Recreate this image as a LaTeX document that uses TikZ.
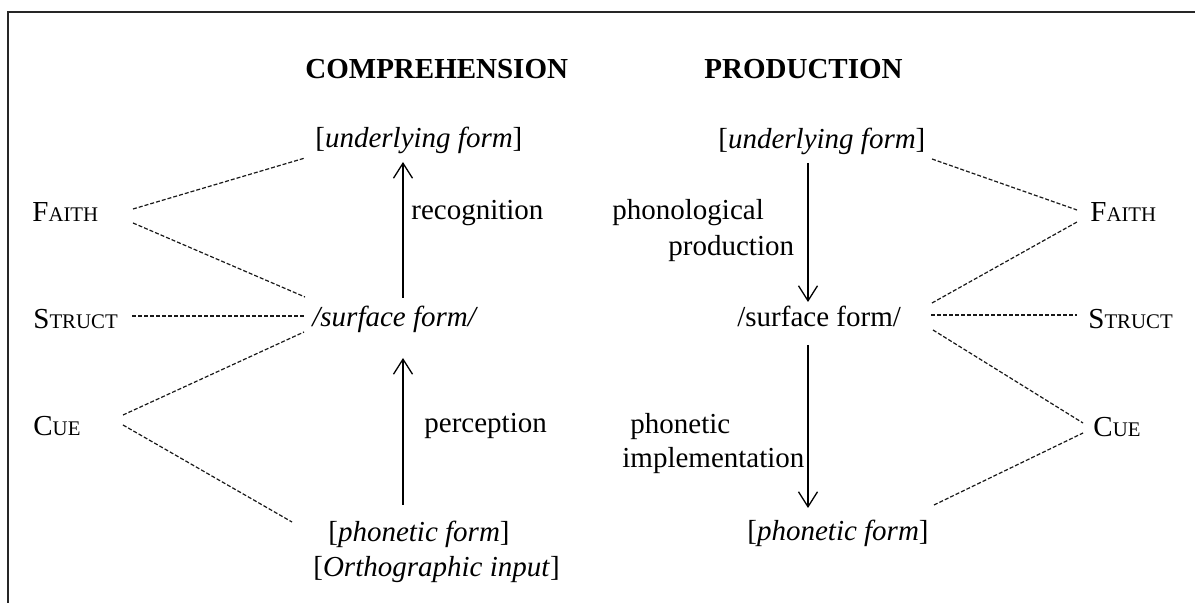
\documentclass[tikz,border=0pt]{standalone}
\usepackage{fontspec}
\setmainfont{Liberation Serif}
\usetikzlibrary{arrows.meta}
\newcommand{\fsc}[2]{#1{\fontsize{10.4pt}{12pt}\selectfont #2}}
\begin{document}
\begin{tikzpicture}[x=0.5pt,y=-0.5pt,
  lbl/.style={anchor=base west, inner sep=0pt, font=\fontsize{14.5pt}{17pt}\selectfont},
  ttl/.style={anchor=base west, inner sep=0pt, font=\fontsize{14.5pt}{17pt}\selectfont\bfseries},
  dline/.style={draw=black!90, line width=0.6pt, dash pattern=on 2pt off 1pt},
  arr/.style={draw=black, line width=0.65pt, -{Straight Barb[length=7.5pt,width=9.5pt]}},
  framel/.style={draw=black!85, line width=0.9pt}]
\useasboundingbox (0,0) rectangle (1195,603);
% frame (only top and left edges visible)
\coordinate (fTR) at (1195,12);
\coordinate (fTL) at (8,12);
\coordinate (fBL) at (8,603);
\draw[framel] (fTR) -- (fTL) -- (fBL);

% titles
\node[ttl] (tC) at (305,79) {COMPREHENSION};
\node[ttl] (tP) at (704,79) {PRODUCTION};

% comprehension column
\node[lbl] (ufL) at (315,148) {[\textit{underlying form}]};
\node[lbl] (sfL) at (312,327) {\textit{/surface form/}};
\node[lbl] (pfL) at (328,542) {[\textit{phonetic form}]};
\node[lbl] (orL) at (313,577) {[\textit{Orthographic input}]};
\node[lbl] (rec) at (411,220) {recognition};
\node[lbl] (per) at (424,433) {perception};

% constraints left
\node[lbl] (faithL) at (32,222) {\fsc{F}{AITH}};
\node[lbl] (structL) at (33,329) {\fsc{S}{TRUCT}};
\node[lbl] (cueL) at (33,436) {\fsc{C}{UE}};

% production column
\node[lbl] (ufR) at (718,149) {[\textit{underlying form}]};
\node[lbl] (sfR) at (737,327) {/surface form/};
\node[lbl] (pfR) at (747,541) {[\textit{phonetic form}]};
\node[lbl] (pp1) at (612,220) {phonological};
\node[lbl] (pp2) at (668,256) {production};
\node[lbl] (pi1) at (630,434) {phonetic};
\node[lbl] (pi2) at (622,468) {implementation};

% constraints right
\node[lbl] (faithR) at (1090,222) {\fsc{F}{AITH}};
\node[lbl] (structR) at (1088,329) {\fsc{S}{TRUCT}};
\node[lbl] (cueR) at (1093,437) {\fsc{C}{UE}};

% arrows
\draw[arr] ([shift={(91,-29)}]sfL.base west) -- ([shift={(88,14)}]ufL.base west);
\draw[arr] ([shift={(75,-37)}]pfL.base west) -- ([shift={(91,31)}]sfL.base west);
\draw[arr] ([shift={(90,14)}]ufR.base west) -- ([shift={(71,-25)}]sfR.base west);
\draw[arr] ([shift={(71,18)}]sfR.base west) -- ([shift={(61,-33)}]pfR.base west);

% dashed lines left
\draw[dline] ([shift={(101,-13)}]faithL.base west) -- ([shift={(-10,10)}]ufL.base west);
\draw[dline] ([shift={(101,1)}]faithL.base west) -- ([shift={(-7,-30)}]sfL.base west);
\draw[dline] ([shift={(99,-13)}]structL.base west) -- ([shift={(-7,-11)}]sfL.base west);
\draw[dline] ([shift={(90,-21)}]cueL.base west) -- ([shift={(-8,5)}]sfL.base west);
\draw[dline] ([shift={(90,-11)}]cueL.base west) -- ([shift={(-36,-20)}]pfL.base west);

% dashed lines right
\draw[dline] ([shift={(214,10)}]ufR.base west) -- ([shift={(-13,-12)}]faithR.base west);
\draw[dline] ([shift={(195,-24)}]sfR.base west) -- ([shift={(-13,0)}]faithR.base west);
\draw[dline] ([shift={(194,-12)}]sfR.base west) -- ([shift={(-11,-14)}]structR.base west);
\draw[dline] ([shift={(196,3)}]sfR.base west) -- ([shift={(-10,-14)}]cueR.base west);
\draw[dline] ([shift={(187,-36)}]pfR.base west) -- ([shift={(-10,-4)}]cueR.base west);
\end{tikzpicture}
\end{document}
